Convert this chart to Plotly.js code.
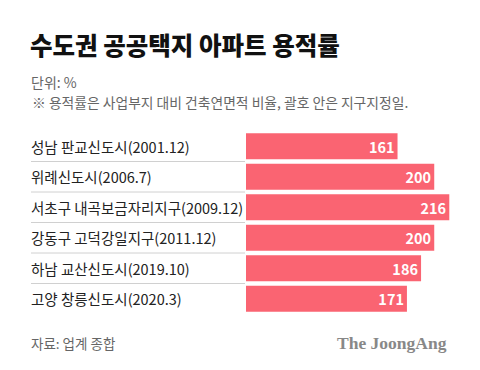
<!DOCTYPE html>
<html>
<head>
<meta charset="utf-8">
<script src="https://cdn.plot.ly/plotly-3.0.1.min.js"></script>
<style>html,body{margin:0;padding:0;background:#fff;}#chart{width:480px;height:370px;}</style>
</head>
<body>
<div id="chart"></div>
<script>
const categories = [
  "성남 판교신도시(2001.12)",
  "위례신도시(2006.7)",
  "서초구 내곡보금자리지구(2009.12)",
  "강동구 고덕강일지구(2011.12)",
  "하남 교산신도시(2019.10)",
  "고양 창릉신도시(2020.3)"
];
const values = [161, 200, 216, 200, 186, 171];
const titleText = "수도권 공공택지 아파트 용적률";
const unitText = "단위: %";
const noteText = "※ 용적률은 사업부지 대비 건축연면적 비율, 괄호 안은 지구지정일.";
const sourceText = "자료: 업계 종합";
const brandText = "The JoongAng";

const FONT = '"Noto Sans CJK KR", "Noto Sans", sans-serif';
const W = 480, H = 370;
const mL = 246, mR = 10, mT = 131, mB = 56;
const pw = W - mL - mR, ph = H - mT - mB;
const px = x => (x - mL) / pw;          // pixel -> paper x
const py = y => 1 - (y - mT) / ph;      // pixel -> paper y

const annotations = [];
categories.forEach((c, i) => {
  annotations.push({
    xref: 'paper', yref: 'y', x: px(29), y: c, xanchor: 'left', yanchor: 'middle',
    text: c, showarrow: false, font: {family: FONT, size: 14.5, color: '#222'}
  });
});
annotations.push(
  {xref:'paper', yref:'paper', x: px(28), y: py(45), xanchor:'left', yanchor:'middle',
   text: titleText, showarrow:false, font:{family: FONT, size: 24.5, color:'#111', weight: 900}},
  {xref:'paper', yref:'paper', x: px(29), y: py(82), xanchor:'left', yanchor:'middle',
   text: unitText, showarrow:false, font:{family: FONT, size: 14, color:'#666'}},
  {xref:'paper', yref:'paper', x: px(30), y: py(102), xanchor:'left', yanchor:'middle',
   text: noteText, showarrow:false, font:{family: FONT, size: 13.8, color:'#666'}},
  {xref:'paper', yref:'paper', x: px(29), y: py(343), xanchor:'left', yanchor:'middle',
   text: sourceText, showarrow:false, font:{family: FONT, size: 13.5, color:'#666'}},
  {xref:'paper', yref:'paper', x: px(449), y: py(343), xanchor:'right', yanchor:'middle',
   text: '<b>' + brandText + '</b>', showarrow:false, font:{family: '"Liberation Serif", "DejaVu Serif", serif', size: 17.5, color:'#888'}}
);

const shapes = [];
for (let i = 0; i < categories.length - 1; i++) {
  shapes.push({type:'line', xref:'paper', yref:'y', x0: px(31), x1: px(245), y0: i + 0.5, y1: i + 0.5,
    line:{color:'#d0d0d0', width:1}});
}

Plotly.newPlot('chart', [{
  type: 'bar', orientation: 'h',
  x: values, y: categories,
  marker: {color: '#FA6472'},
  width: 0.86,
  text: values.map(String),
  textposition: 'inside', insidetextanchor: 'end',
  textfont: {family: FONT, size: 15, color: '#fff', weight: 'bold'},
  hoverinfo: 'none'
}], {
  width: W, height: H,
  margin: {l: mL, r: mR, t: mT, b: mB, pad: 0},
  paper_bgcolor: '#fff', plot_bgcolor: '#fff',
  showlegend: false,
  xaxis: {range: [0, 238], visible: false, fixedrange: true},
  yaxis: {type: 'category', autorange: 'reversed', showticklabels: false, showgrid: false, zeroline: false, showline: false, ticks: ''},
  annotations: annotations,
  shapes: shapes
}, {staticPlot: true, displayModeBar: false});
</script>
</body>
</html>
